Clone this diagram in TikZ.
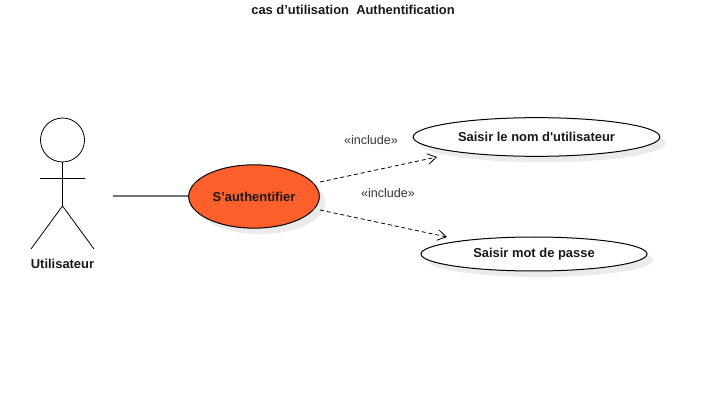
\documentclass[tikz,border=0pt]{standalone}
\usepackage{fontspec}
\setmainfont{Liberation Sans}
\newfontfamily\plainfont{Liberation Sans}
\usetikzlibrary{shapes.geometric,arrows.meta,shadows}
\definecolor{authfill}{HTML}{FF5F2A}
\tikzset{
    boldtext/.style={font=\plainfont\bfseries\fontsize{9.7}{11}\selectfont,text=black!90},
    usecase/.style={ellipse,draw=black,fill=white,line width=0.75pt,inner sep=0pt,boldtext,
        drop shadow={shadow xshift=4.5pt,shadow yshift=-4.5pt,fill=black!8,opacity=1}},
    stereo/.style={font=\fontsize{9.4}{11}\selectfont,text=black!80},
    incl/.style={dashed,dash pattern=on 3pt off 2.2pt,line width=0.6pt,-{Straight Barb[length=6.5pt,width=8pt]}}
}
\begin{document}
\begin{tikzpicture}[x=0.75pt,y=-0.75pt]
        \useasboundingbox (0,0) rectangle (717,413);
        \node [boldtext] (title) at (353,9.5) {cas d’utilisation\ \ Authentification};

        \node [circle,draw,line width=0.6pt,minimum size=33pt,inner sep=0pt] (head) at (62.5,140) {};
        \coordinate (hip) at (62.5,206);
        \coordinate (armL) at (40,178);
        \coordinate (armR) at (85,178);
        \coordinate (footL) at (31,249);
        \coordinate (footR) at (94,249);
        \draw [line width=0.6pt] (head.south) -- (hip);
        \draw [line width=0.6pt] (armL) -- (armR);
        \draw [line width=0.6pt] (footL) -- (hip) -- (footR);
        \node [boldtext] (actor) at (62.5,263.5) {Utilisateur};

        \node [usecase,fill=authfill,minimum width=98pt,minimum height=47.5pt] (auth) at (254,196.5) {S’authentifier};
        \node [usecase,minimum width=185pt,minimum height=29pt] (nom) at (536.5,137) {Saisir le nom d'utilisateur};
        \node [usecase,minimum width=169.5pt,minimum height=25.5pt] (mdp) at (534,254) {Saisir mot de passe};

        \coordinate (assoc) at (113,196);
        \coordinate (inclA) at (320,182);
        \coordinate (inclB) at (320,210);
        \coordinate (endA) at (437,157);
        \coordinate (endB) at (447,237);
        \draw [line width=1pt,draw=black!55] (assoc) -- (auth.west |- assoc);
        \draw [incl] (inclA) -- (endA);
        \draw [incl] (inclB) -- (endB);
        \node [stereo] (labA) at (371,140) {«include»};
        \node [stereo] (labB) at (388,193) {«include»};
    \end{tikzpicture}
\end{document}
